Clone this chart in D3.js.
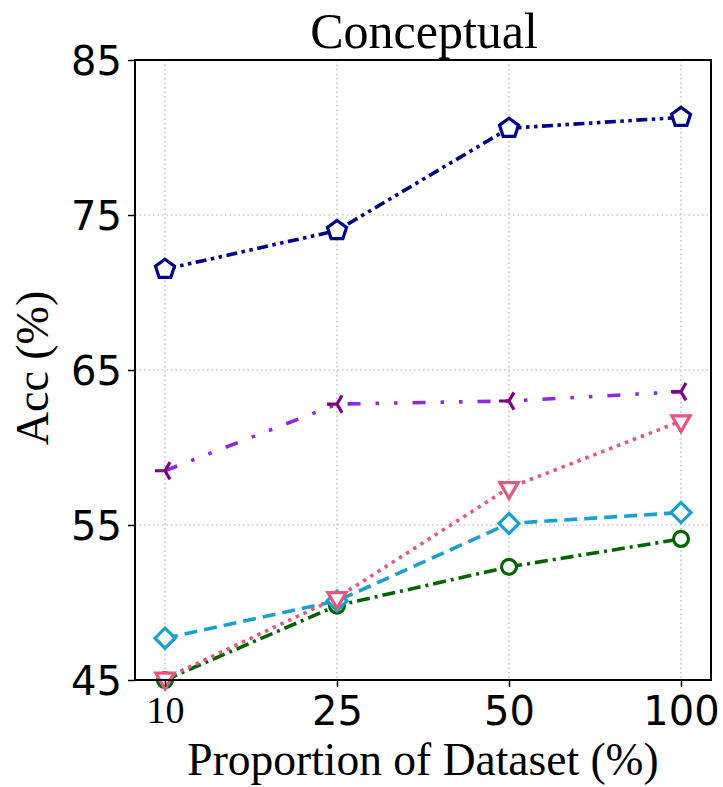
<!DOCTYPE html>
<html><head><meta charset="utf-8">
<script src="https://cdn.jsdelivr.net/npm/d3@7"></script>
<style>body{margin:0;background:#fff}</style>
</head><body>
<script>
const categories = ["10", "25", "50", "100"];
const yTicks = [45, 55, 65, 75, 85];
const navySeries = [71.5, 74.0, 80.6, 81.3];
const purpleSeries = [58.5, 62.8, 63.0, 63.6];
const pinkSeries = [45.1, 50.3, 57.4, 61.7];
const cyanSeries = [47.7, 50.1, 55.1, 55.8];
const greenSeries = [45.0, 49.8, 52.3, 54.1];

const W = 723, H = 787;
const L = 135, R = 711, T = 60, B = 680;
const svg = d3.select("body").append("svg").attr("width", W).attr("height", H);

const x = d3.scalePoint().domain(categories).range([165, 681]);
const y = d3.scaleLinear().domain([45, 85]).range([B, T]);

// grid
svg.append("g").selectAll("line.gx").data(categories).join("line")
  .attr("x1", d => x(d)).attr("x2", d => x(d)).attr("y1", T).attr("y2", B)
  .attr("stroke", "#b0b0b0").attr("stroke-width", 1.2).attr("stroke-dasharray", "1.5,3");
svg.append("g").selectAll("line.gy").data(yTicks).join("line")
  .attr("x1", L).attr("x2", R).attr("y1", d => y(d)).attr("y2", d => y(d))
  .attr("stroke", "#b0b0b0").attr("stroke-width", 1.2).attr("stroke-dasharray", "1.5,3");

const series = [
  {v: greenSeries, line: "#006400", mk: "#006400", dash: "13,5,3,5", shape: "circle"},
  {v: cyanSeries, line: "#1a9fcf", mk: "#1a9fcf", dash: "13,7", shape: "diamond"},
  {v: pinkSeries, line: "#e5577f", mk: "#e5577f", dash: "3.5,5", shape: "tridown"},
  {v: purpleSeries, line: "#8a2be2", mk: "#800080", dash: "13,15,3.5,15,3.5,15", shape: "trileft"},
  {v: navySeries, line: "#00008b", mk: "#00008b", dash: "11,4.5,3.5,4.5,3.5,4.5", shape: "pentagon"}
];

const lineGen = d3.line().x((d, i) => x(categories[i])).y(d => y(d));
const plot = svg.append("g");
series.forEach(s => {
  plot.append("path").datum(s.v).attr("d", lineGen)
    .attr("fill", "none").attr("stroke", s.line).attr("stroke-width", 3.6)
    .attr("stroke-dasharray", s.dash);
});

function markerPath(shape) {
  if (shape === "pentagon") {
    const r = 10; const pts = [];
    for (let k = 0; k < 5; k++) { const a = -Math.PI/2 + k*2*Math.PI/5; pts.push([r*Math.cos(a), r*Math.sin(a)]); }
    return "M" + pts.map(p => p.join(",")).join("L") + "Z";
  }
  if (shape === "diamond") { const r = 10; return `M0,${-r}L${r},0L0,${r}L${-r},0Z`; }
  if (shape === "tridown") { const r = 10.5; return `M${-r*0.87},${-r*0.5}L${r*0.87},${-r*0.5}L0,${r}Z`; }
  if (shape === "trileft") { const r = 10; return `M0,0L${-r},0M0,0L${r*0.5},${-r*0.866}M0,0L${r*0.5},${r*0.866}`; }
  return null;
}
series.forEach(s => {
  const g = plot.append("g");
  s.v.forEach((d, i) => {
    if (s.shape === "circle") {
      g.append("circle").attr("cx", x(categories[i])).attr("cy", y(d)).attr("r", 7.5)
        .attr("fill", "#fff").attr("stroke", s.mk).attr("stroke-width", 3.2);
    } else {
      g.append("path").attr("d", markerPath(s.shape))
        .attr("transform", `translate(${x(categories[i])},${y(d)})`)
        .attr("fill", s.shape === "trileft" ? "none" : "#fff")
        .attr("stroke", s.mk).attr("stroke-width", 3.2).attr("stroke-linejoin", "miter");
    }
  });
});

// frame
svg.append("rect").attr("x", L).attr("y", T).attr("width", R - L).attr("height", B - T)
  .attr("fill", "none").attr("stroke", "#000").attr("stroke-width", 2);

// axes
const yAxis = d3.axisLeft(y).tickValues(yTicks).tickSize(7).tickPadding(6);
const gy = svg.append("g").attr("transform", `translate(${L},0)`).call(yAxis);
gy.select(".domain").remove();
gy.selectAll("line").attr("stroke", "#000").attr("stroke-width", 1.5);
gy.selectAll("text").attr("font-family", "DejaVu Sans").attr("font-size", 40).attr("fill", "#000").attr("dy", "0.36em");

const xAxis = d3.axisBottom(x).tickSize(7).tickPadding(6);
const gx = svg.append("g").attr("transform", `translate(0,${B})`).call(xAxis);
gx.select(".domain").remove();
gx.selectAll("line").attr("stroke", "#000").attr("stroke-width", 1.5);
gx.selectAll("text").attr("fill", "#000")
  .attr("font-family", d => d === "10" ? "Liberation Serif" : "DejaVu Sans")
  .attr("font-size", d => d === "10" ? 38 : 40)
  .attr("dy", "0.8em");

// labels
svg.append("text").attr("x", 424).attr("y", 48).attr("text-anchor", "middle")
  .attr("font-family", "Liberation Serif").attr("font-size", 50).text("Conceptual");
svg.append("text").attr("x", 423).attr("y", 775).attr("text-anchor", "middle")
  .attr("font-family", "Liberation Serif").attr("font-size", 45.5).text("Proportion of Dataset (%)");
svg.append("text").attr("transform", "translate(48,368) rotate(-90)").attr("text-anchor", "middle")
  .attr("font-family", "Liberation Serif").attr("font-size", 46).text("Acc (%)");
</script>
</body></html>
